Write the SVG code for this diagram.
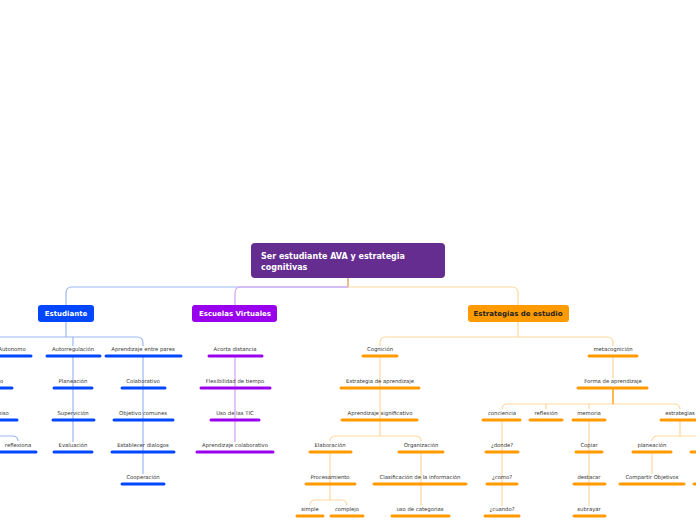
<svg xmlns="http://www.w3.org/2000/svg" width="696" height="520" viewBox="0 0 696 520">
<style>
text{font-family:"DejaVu Sans","Liberation Sans",sans-serif;font-size:5.3px;fill:#333;text-anchor:middle}
.t{font-weight:bold;fill:#fff;font-size:7px}
.b{stroke:#0047ff;stroke-width:3;stroke-linecap:round}
.p{stroke:#9900ee;stroke-width:3;stroke-linecap:round}
.o{stroke:#ff9a00;stroke-width:3;stroke-linecap:round}
.cb{fill:none;stroke:#9db6f5;stroke-width:1.2}
.cp{fill:none;stroke:#d6a0f5;stroke-width:1.2}
.co{fill:none;stroke:#ffd79c;stroke-width:1.2}
</style>
<rect width="696" height="520" fill="#fff"/>
<g id="connectors">
<path class="cb" d="M348 278V287H72Q66 287 66 293V305"/>
<path d="M348 278V287" stroke="#ffb347" stroke-width="1.2"/>
<path class="cp" d="M348 287H241Q235 287 235 293V305"/>
<path class="co" d="M348 287H512Q518 287 518 293V305"/>
<path class="cb" d="M66 322V337H137Q143 337 143 343V346M73 337V346M66 337H0"/>
<path class="cb" d="M73 356V442M143 356V474M0 436H12Q18 436 18 441"/>
<path class="cp" d="M235 356V442"/>
<path class="co" d="M518 322V337H607Q613 337 613 343V346M518 337H386Q380 337 380 343V346"/>
<path class="co" d="M380 356V436H415Q421 436 421 441M380 436H336Q330 436 330 441"/>
<path class="co" d="M330 452V500H341Q347 500 347 505M330 500H316Q310 500 310 505M421 452V506"/>
<path class="co" d="M613 356V378M613 388V404H674Q680 404 680 409M613 404H508Q502 404 502 409M546 404V409M589 404V409"/>
<path d="M613 388V404" stroke="#ff9a00" stroke-width="1.2"/>
<path class="co" d="M502 420V506M589 420V506M680 420V436H658Q652 436 652 441M680 436H696M652 452V474"/>
</g>
<g id="main"><rect x="251" y="243" width="194" height="35" rx="4" fill="#662d91"/><text class="t" x="261" y="259" style="text-anchor:start;font-size:8px">Ser estudiante AVA y estrategia</text><text class="t" x="261" y="270" style="text-anchor:start;font-size:8px">cognitivas</text></g>
<g id="estudiante"><rect x="38" y="305" width="56" height="17" rx="3" fill="#0047ff"/><text class="t" x="66" y="316">Estudiante</text></g>
<g id="escuelas"><rect x="192" y="305" width="85" height="17" rx="3" fill="#9900ee"/><text class="t" x="235" y="316">Escuelas Virtuales</text></g>
<g id="estrategias"><rect x="468" y="305" width="101" height="17" rx="3" fill="#ff9a00"/><text class="t" x="518" y="316" style="fill:#222">Estrategias de estudio</text></g>
<g id="est-nodes">
<text x="12" y="351">Autonomo</text><line class="b" x1="-5" y1="356" x2="31" y2="356"/>
<text x="-5" y="383">Activo</text><line class="b" x1="-5" y1="388" x2="12" y2="388"/>
<text x="-8" y="415">Compromiso</text><line class="b" x1="-5" y1="420" x2="17" y2="420"/>
<text x="18" y="447">reflexiona</text><line class="b" x1="-2" y1="452" x2="36" y2="452"/>
<text x="73" y="351">Autorregulación</text><line class="b" x1="47" y1="356" x2="100" y2="356"/>
<text x="73" y="383">Planeación</text><line class="b" x1="54" y1="388" x2="92" y2="388"/>
<text x="73" y="415">Supervición</text><line class="b" x1="53" y1="420" x2="94" y2="420"/>
<text x="73" y="447">Evaluación</text><line class="b" x1="54" y1="452" x2="92" y2="452"/>
<text x="143" y="351">Aprendizaje entre pares</text><line class="b" x1="106" y1="356" x2="181" y2="356"/>
<text x="143" y="383">Colaborativo</text><line class="b" x1="122" y1="388" x2="165" y2="388"/>
<text x="143" y="415">Objetivo comunes</text><line class="b" x1="114" y1="420" x2="173" y2="420"/>
<text x="143" y="447">Establecer dialogos</text><line class="b" x1="112" y1="452" x2="174" y2="452"/>
<text x="143" y="479">Cooperación</text><line class="b" x1="122" y1="484" x2="164" y2="484"/>
</g>
<g id="esc-nodes">
<text x="235" y="351">Acorta distancia</text><line class="p" x1="209" y1="356" x2="262" y2="356"/>
<text x="235" y="383">Flexibilidad de tiempo</text><line class="p" x1="201" y1="388" x2="270" y2="388"/>
<text x="235" y="415">Uso de las TIC</text><line class="p" x1="211" y1="420" x2="259" y2="420"/>
<text x="235" y="447">Aprendizaje colaborativo</text><line class="p" x1="197" y1="452" x2="273" y2="452"/>
</g>
<g id="estr-nodes">
<text x="380" y="351">Cognición</text><line class="o" x1="363" y1="356" x2="397" y2="356"/>
<text x="380" y="383">Estrategia de aprendizaje</text><line class="o" x1="341" y1="388" x2="419" y2="388"/>
<text x="380" y="415">Aprendizaje significativo</text><line class="o" x1="342" y1="420" x2="417" y2="420"/>
<text x="330" y="447">Elaboración</text><line class="o" x1="310" y1="452" x2="351" y2="452"/>
<text x="421" y="447">Organización</text><line class="o" x1="399" y1="452" x2="443" y2="452"/>
<text x="330" y="479">Procesamiento</text><line class="o" x1="306" y1="484" x2="355" y2="484"/>
<text x="420" y="479">Clasificación de la información</text><line class="o" x1="374" y1="484" x2="466" y2="484"/>
<text x="310" y="511">simple</text><line class="o" x1="297" y1="516" x2="323" y2="516"/>
<text x="347" y="511">complejo</text><line class="o" x1="331" y1="516" x2="363" y2="516"/>
<text x="420" y="511">uso de categorias</text><line class="o" x1="392" y1="516" x2="449" y2="516"/>
<text x="613" y="351">metacognición</text><line class="o" x1="589" y1="356" x2="637" y2="356"/>
<text x="613" y="383">Forma de aprendizaje</text><line class="o" x1="578" y1="388" x2="647" y2="388"/>
<text x="502" y="415">conciencia</text><line class="o" x1="483" y1="420" x2="520" y2="420"/>
<text x="546" y="415">reflexión</text><line class="o" x1="530" y1="420" x2="562" y2="420"/>
<text x="589" y="415">memoria</text><line class="o" x1="573" y1="420" x2="605" y2="420"/>
<text x="680" y="415">estrategias</text><line class="o" x1="661" y1="420" x2="700" y2="420"/>
<text x="502" y="447">¿donde?</text><line class="o" x1="486" y1="452" x2="518" y2="452"/>
<text x="502" y="479">¿como?</text><line class="o" x1="487" y1="484" x2="517" y2="484"/>
<text x="502" y="511">¿cuando?</text><line class="o" x1="485" y1="516" x2="519" y2="516"/>
<text x="589" y="447">Copiar</text><line class="o" x1="576" y1="452" x2="602" y2="452"/>
<text x="589" y="479">destacar</text><line class="o" x1="574" y1="484" x2="605" y2="484"/>
<text x="589" y="511">subrayar</text><line class="o" x1="574" y1="516" x2="605" y2="516"/>
<text x="652" y="447">planeación</text><line class="o" x1="633" y1="452" x2="671" y2="452"/>
<line class="o" x1="691" y1="452" x2="700" y2="452"/>
<text x="652" y="479">Compartir Objetivos</text><line class="o" x1="620" y1="484" x2="684" y2="484"/>
<line class="o" x1="694" y1="484" x2="700" y2="484"/>
</g>
</svg>
